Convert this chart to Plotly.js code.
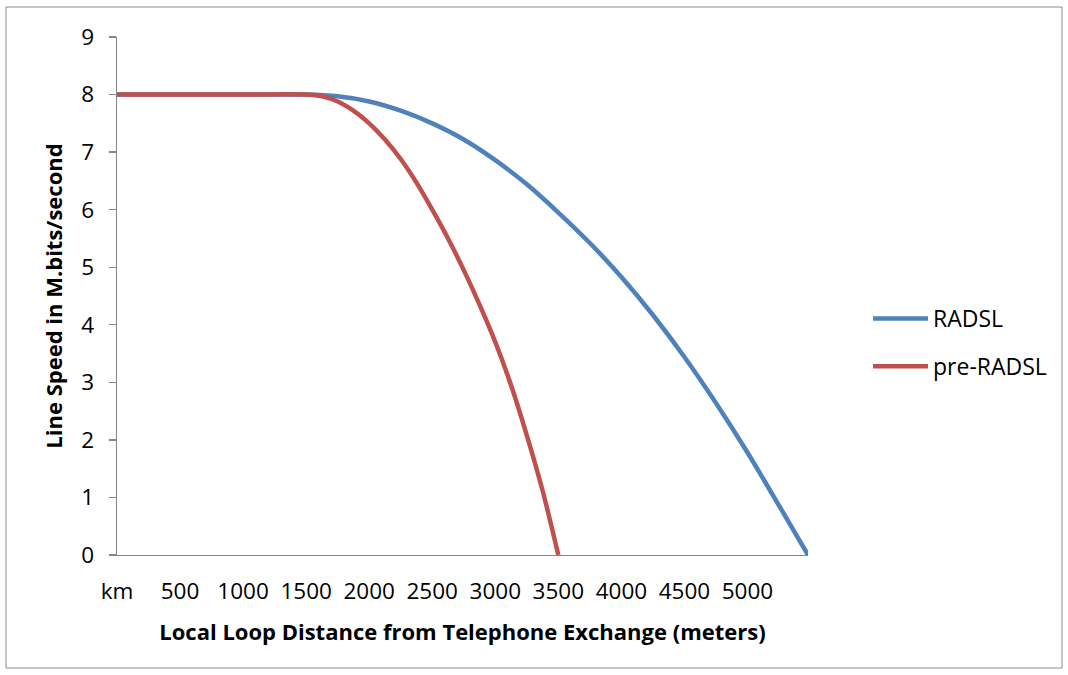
<!DOCTYPE html>
<html>
<head>
<meta charset="utf-8">
<script src="https://cdn.plot.ly/plotly-3.0.1.min.js"></script>
<style>
  html, body { margin: 0; padding: 0; background: #fff; }
  #chart { width: 1068px; height: 675px; }
</style>
</head>
<body>
<div id="chart"></div>
<script>
// Distance (meters) and line speed (Mbit/s)
const radslX = [0, 500, 1000, 1500, 1750, 2000, 2250, 2500, 2750, 3000, 3250, 3500, 3750, 4000, 4250, 4500, 4750, 5000, 5250, 5480];
const radslY = [8, 8, 8, 8, 7.97, 7.88, 7.72, 7.5, 7.22, 6.86, 6.44, 5.95, 5.42, 4.83, 4.17, 3.44, 2.64, 1.78, 0.86, 0];

const preX = [0, 500, 1000, 1500, 1625, 1750, 1875, 2000, 2125, 2250, 2375, 2500, 2625, 2750, 2875, 3000, 3125, 3250, 3375, 3500];
const preY = [8, 8, 8, 8, 7.97, 7.88, 7.72, 7.5, 7.22, 6.88, 6.47, 6.0, 5.5, 4.95, 4.35, 3.7, 2.95, 2.08, 1.12, 0];

const xTickVals = [0, 500, 1000, 1500, 2000, 2500, 3000, 3500, 4000, 4500, 5000];
const xTickText = ['km', '500', '1000', '1500', '2000', '2500', '3000', '3500', '4000', '4500', '5000'];
const yTickVals = [0, 1, 2, 3, 4, 5, 6, 7, 8, 9];
const seriesNames = ['RADSL', 'pre-RADSL'];
const seriesColors = ['#4F81BD', '#C0504D'];

const FONT = '"Open Sans", "Noto Sans", sans-serif';
const AXIS_GRAY = '#868686';

const traces = [
  {
    x: radslX, y: radslY, name: seriesNames[0], type: 'scatter', mode: 'lines',
    line: { color: seriesColors[0], width: 4.5, shape: 'spline', smoothing: 0.8 },
    legendgroup: 'a', hoverinfo: 'x+y'
  },
  {
    x: preX, y: preY, name: seriesNames[1], type: 'scatter', mode: 'lines',
    line: { color: seriesColors[1], width: 4.5, shape: 'spline', smoothing: 0.8 },
    legendgroup: 'b', hoverinfo: 'x+y'
  }
];

const L = 117, R = 260, T = 37, B = 120;
const W = 1068, H = 675;
const pw = W - L - R, ph = H - T - B;
function px2paperX(p) { return (p - L) / pw; }
function px2paperY(p) { return (H - B - p) / ph; }

const layout = {
  width: W, height: H,
  margin: { l: L, r: R, t: T, b: B, pad: 0 },
  paper_bgcolor: '#ffffff',
  plot_bgcolor: '#ffffff',
  font: { family: FONT, color: '#000000', size: 22 },
  showlegend: true,
  legend: {
    x: px2paperX(868), y: px2paperY(297), xanchor: 'left', yanchor: 'top',
    font: { family: FONT, size: 23, color: '#000' },
    tracegroupgap: 15, traceorder: 'grouped', itemwidth: 55,
    bgcolor: 'rgba(0,0,0,0)', borderwidth: 0
  },
  xaxis: {
    range: [0, 5480],
    tickmode: 'array', tickvals: xTickVals, ticktext: xTickText,
    ticks: '', showgrid: false, zeroline: false,
    showline: true, linecolor: AXIS_GRAY, linewidth: 1.3,
    tickfont: { family: FONT, size: 22.5, color: '#000' },
    ticklabelstandoff: 16,
    fixedrange: true,
    title: {
      text: 'Local Loop Distance from Telephone Exchange (meters)',
      font: { family: FONT, size: 22, color: '#000', weight: 'bold' },
      standoff: 19
    }
  },
  xaxis2: {
    overlaying: 'x', anchor: 'y', side: 'bottom',
    range: [0, 5480],
    tickmode: 'array', tickvals: [0, 5000],
    ticks: 'outside', ticklen: 7, tickcolor: AXIS_GRAY, tickwidth: 1.3,
    showticklabels: false, showgrid: false, zeroline: false, showline: false,
    fixedrange: true
  },
  yaxis: {
    range: [0, 9],
    tickmode: 'array', tickvals: yTickVals,
    ticks: 'outside', ticklen: 7, tickcolor: AXIS_GRAY, tickwidth: 1.3,
    showgrid: false, zeroline: false,
    showline: true, linecolor: AXIS_GRAY, linewidth: 1.3,
    tickfont: { family: FONT, size: 22.5, color: '#000' },
    ticklabelstandoff: 10,
    fixedrange: true,
    title: {
      text: 'Line Speed in M.bits/second',
      font: { family: FONT, size: 22, color: '#000', weight: 'bold' },
      standoff: 12
    }
  },
  shapes: [
    {
      type: 'rect', xref: 'paper', yref: 'paper',
      x0: px2paperX(6), x1: px2paperX(1062),
      y0: px2paperY(668), y1: px2paperY(7),
      line: { color: '#8c8c8c', width: 1 }, fillcolor: 'rgba(0,0,0,0)',
      layer: 'below'
    }
  ]
};

Plotly.newPlot('chart', traces, layout, { displayModeBar: false, staticPlot: true });
</script>
</body>
</html>
